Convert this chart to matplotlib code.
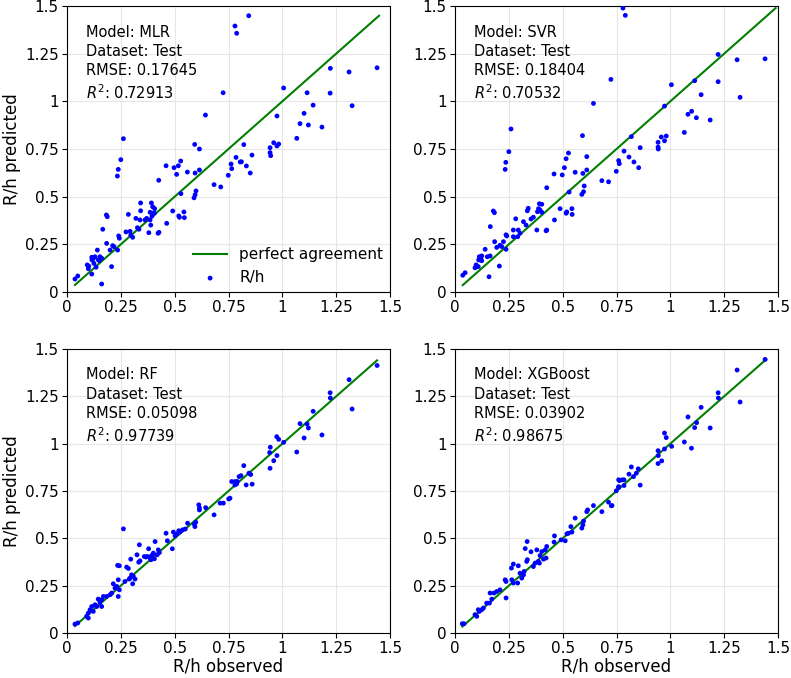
import matplotlib
matplotlib.use("Agg")
import matplotlib.pyplot as plt
import numpy as np
from matplotlib.ticker import FuncFormatter, MultipleLocator

# ---------------- data ----------------
mlr_pts = [(0.78,1.395),(0.788,1.357),(0.844,1.449),(0.725,1.045),(0.643,0.928),(0.262,0.804),(0.25,0.694),(0.238,0.643),(0.234,0.608),(0.593,0.774),(0.615,0.75),(0.46,0.662),(0.497,0.652),(0.509,0.617),(0.517,0.662),(0.528,0.687),(0.559,0.629),(0.595,0.624),(0.615,0.64),(0.426,0.586),(0.683,0.563),(0.714,0.551),(0.785,0.706),(0.762,0.671),(0.765,0.647),(0.749,0.612),(0.804,0.682),(0.529,0.516),(0.599,0.53),(0.595,0.51),(0.59,0.494),(0.342,0.467),(0.342,0.426),(0.392,0.467),(0.398,0.447),(0.407,0.437),(0.386,0.418),(0.398,0.413),(0.491,0.425),(0.519,0.399),(0.522,0.392),(0.543,0.42),(0.545,0.39),(0.285,0.407),(0.32,0.386),(0.339,0.378),(0.362,0.378),(0.37,0.386),(0.389,0.351),(0.386,0.378),(0.395,0.398),(0.406,0.413),(0.463,0.36),(0.427,0.313),(0.423,0.308),(0.38,0.311),(0.183,0.404),(0.187,0.395),(0.166,0.329),(0.274,0.315),(0.296,0.299),(0.293,0.318),(0.327,0.337),(0.334,0.329),(0.305,0.287),(0.24,0.294),(0.243,0.282),(0.184,0.255),(0.212,0.243),(0.218,0.238),(0.235,0.22),(0.2,0.22),(0.141,0.22),(0.13,0.185),(0.115,0.182),(0.116,0.168),(0.122,0.175),(0.153,0.185),(0.161,0.177),(0.15,0.164),(0.145,0.169),(0.125,0.15),(0.135,0.13),(0.094,0.142),(0.099,0.122),(0.101,0.136),(0.115,0.094),(0.207,0.133),(0.05,0.084),(0.037,0.068),(0.161,0.042),(1.223,1.173),(1.31,1.154),(1.44,1.176),(1.006,1.07),(1.115,1.045),(1.222,1.043),(1.143,0.98),(1.324,0.977),(1.101,0.937),(0.975,0.923),(1.082,0.883),(1.121,0.876),(1.184,0.865),(1.067,0.806),(0.96,0.783),(0.983,0.776),(0.975,0.766),(0.943,0.757),(0.943,0.731),(0.946,0.715),(0.821,0.773),(0.81,0.683),(0.833,0.661),(0.859,0.718),(0.851,0.624)]

svr_pts = [(0.724,1.115),(0.643,0.989),(0.26,0.855),(0.25,0.736),(0.236,0.68),(0.233,0.643),(0.592,0.82),(0.527,0.729),(0.516,0.699),(0.612,0.71),(0.508,0.652),(0.498,0.614),(0.46,0.619),(0.558,0.628),(0.594,0.622),(0.612,0.64),(0.682,0.584),(0.713,0.578),(0.749,0.633),(0.426,0.547),(0.53,0.524),(0.6,0.556),(0.597,0.526),(0.589,0.512),(0.488,0.437),(0.519,0.42),(0.516,0.413),(0.543,0.437),(0.544,0.407),(0.392,0.463),(0.403,0.46),(0.388,0.437),(0.395,0.43),(0.383,0.421),(0.403,0.418),(0.34,0.439),(0.336,0.426),(0.178,0.425),(0.183,0.416),(0.164,0.343),(0.282,0.384),(0.271,0.325),(0.294,0.325),(0.302,0.308),(0.291,0.29),(0.318,0.369),(0.33,0.351),(0.353,0.383),(0.364,0.392),(0.38,0.325),(0.423,0.321),(0.426,0.325),(0.462,0.378),(0.184,0.264),(0.209,0.245),(0.225,0.264),(0.237,0.224),(0.217,0.238),(0.24,0.294),(0.237,0.3),(0.271,0.29),(0.194,0.234),(0.14,0.224),(0.113,0.185),(0.12,0.177),(0.11,0.168),(0.124,0.189),(0.15,0.185),(0.163,0.189),(0.108,0.133),(0.098,0.142),(0.093,0.127),(0.124,0.164),(0.158,0.08),(0.206,0.136),(0.047,0.101),(0.036,0.088),(0.78,1.489),(0.791,1.451),(1.222,1.246),(1.31,1.218),(1.44,1.223),(1.005,1.087),(1.113,1.108),(1.222,1.103),(1.143,1.035),(1.324,1.021),(0.973,0.975),(1.099,0.948),(1.082,0.932),(1.121,0.914),(1.185,0.902),(1.065,0.837),(0.958,0.813),(0.981,0.818),(0.973,0.793),(0.943,0.785),(0.943,0.76),(0.944,0.75),(0.819,0.815),(0.86,0.757),(0.785,0.739),(0.808,0.708),(0.831,0.682),(0.853,0.652),(0.76,0.689),(0.763,0.673)]

rf_pts = [(0.262,0.55),(0.336,0.466),(0.409,0.483),(0.379,0.445),(0.296,0.39),(0.339,0.381),(0.333,0.374),(0.325,0.413),(0.359,0.404),(0.367,0.401),(0.373,0.404),(0.386,0.396),(0.393,0.409),(0.401,0.422),(0.424,0.439),(0.429,0.425),(0.419,0.413),(0.39,0.387),(0.406,0.392),(0.46,0.527),(0.466,0.487),(0.494,0.533),(0.489,0.445),(0.502,0.513),(0.512,0.524),(0.519,0.54),(0.525,0.534),(0.537,0.545),(0.549,0.549),(0.56,0.58),(0.591,0.575),(0.598,0.585),(0.594,0.562),(0.612,0.677),(0.615,0.661),(0.615,0.65),(0.644,0.662),(0.683,0.624),(0.711,0.686),(0.726,0.686),(0.751,0.708),(0.765,0.8),(0.78,0.8),(0.788,0.788),(0.799,0.826),(0.235,0.357),(0.243,0.355),(0.277,0.348),(0.285,0.341),(0.238,0.281),(0.269,0.272),(0.293,0.29),(0.3,0.307),(0.308,0.299),(0.316,0.285),(0.305,0.26),(0.289,0.285),(0.215,0.26),(0.223,0.237),(0.231,0.246),(0.243,0.228),(0.208,0.211),(0.2,0.202),(0.184,0.193),(0.238,0.193),(0.169,0.193),(0.161,0.176),(0.145,0.179),(0.153,0.161),(0.138,0.14),(0.161,0.14),(0.13,0.149),(0.115,0.14),(0.107,0.123),(0.122,0.114),(0.099,0.105),(0.091,0.088),(0.099,0.079),(0.037,0.047),(0.05,0.053),(1.44,1.413),(1.31,1.338),(1.222,1.269),(1.223,1.241),(1.324,1.183),(1.143,1.171),(1.082,1.106),(1.115,1.104),(1.121,1.083),(1.101,1.03),(1.184,1.046),(0.974,1.037),(0.983,1.023),(1.006,1.007),(1.067,0.956),(0.944,0.981),(0.941,0.953),(0.975,0.937),(0.96,0.91),(0.943,0.87),(0.821,0.884),(0.808,0.831),(0.845,0.844),(0.853,0.837),(0.832,0.782),(0.86,0.786),(0.791,0.8),(0.78,0.782),(0.757,0.712)]

xgb_pts = [(0.335,0.483),(0.326,0.446),(0.353,0.429),(0.38,0.439),(0.395,0.409),(0.403,0.43),(0.426,0.457),(0.419,0.439),(0.423,0.396),(0.411,0.39),(0.262,0.343),(0.271,0.364),(0.294,0.355),(0.321,0.325),(0.333,0.378),(0.336,0.387),(0.302,0.316),(0.291,0.264),(0.31,0.29),(0.318,0.307),(0.364,0.351),(0.372,0.369),(0.387,0.378),(0.392,0.369),(0.233,0.281),(0.237,0.272),(0.264,0.281),(0.271,0.264),(0.237,0.185),(0.209,0.228),(0.194,0.219),(0.181,0.211),(0.163,0.211),(0.171,0.179),(0.16,0.158),(0.147,0.158),(0.132,0.132),(0.124,0.123),(0.113,0.114),(0.108,0.123),(0.093,0.097),(0.101,0.088),(0.042,0.049),(0.034,0.049),(0.462,0.513),(0.46,0.48),(0.493,0.492),(0.512,0.487),(0.52,0.524),(0.527,0.527),(0.543,0.533),(0.538,0.562),(0.558,0.607),(0.597,0.591),(0.594,0.571),(0.589,0.554),(0.612,0.641),(0.616,0.65),(0.643,0.673),(0.682,0.641),(0.713,0.691),(0.729,0.673),(0.76,0.809),(0.76,0.773),(1.44,1.445),(1.31,1.389),(1.222,1.269),(1.223,1.241),(1.324,1.22),(1.143,1.192),(1.082,1.141),(1.122,1.111),(1.113,1.085),(1.185,1.083),(1.065,1.009),(1.098,0.976),(0.973,1.056),(0.981,1.032),(1.006,0.986),(0.973,0.972),(0.943,0.963),(0.944,0.937),(0.96,0.909),(0.943,0.895),(0.819,0.877),(0.851,0.867),(0.808,0.839),(0.842,0.844),(0.829,0.826),(0.785,0.809),(0.777,0.809),(0.764,0.805),(0.785,0.779),(0.76,0.768),(0.86,0.781),(0.726,0.672),(0.749,0.751)]

models = ["MLR", "SVR", "RF", "XGBoost"]
rmse = ["0.17645", "0.18404", "0.05098", "0.03902"]
r2 = ["0.72913", "0.70532", "0.97739", "0.98675"]
panels = [mlr_pts, svr_pts, rf_pts, xgb_pts]

# ---------------- figure ----------------
fig = plt.figure(figsize=(7.91, 6.78), dpi=100)
W, H = 791, 678
boxes = [(67, 6, 390, 292), (455, 6, 778, 292), (67, 349, 390, 633), (455, 349, 778, 633)]
fmt = FuncFormatter(lambda v, p: "%g" % v)

for i, (pts, (x0, y0, x1, y1)) in enumerate(zip(panels, boxes)):
    ax = fig.add_axes([x0 / W, 1 - y1 / H, (x1 - x0) / W, (y1 - y0) / H])
    arr = np.array(pts)
    obs, pred = arr[:, 0], arr[:, 1]
    lo = min(obs.min(), pred.min())
    hi = max(obs.max(), pred.max())
    ax.plot([lo, hi], [lo, hi], color="green", lw=1.5, label="perfect agreement", zorder=2)
    ax.scatter(obs, pred, s=12, color="blue", edgecolors="none", label="R/h", zorder=3)
    ax.set_xlim(0, 1.5)
    ax.set_ylim(0, 1.5)
    ax.xaxis.set_major_locator(MultipleLocator(0.25))
    ax.yaxis.set_major_locator(MultipleLocator(0.25))
    ax.xaxis.set_major_formatter(fmt)
    ax.yaxis.set_major_formatter(fmt)
    ax.tick_params(labelsize=11, pad=2.5)
    ax.grid(True, color="#e6e6e6", lw=0.8)
    ax.set_axisbelow(True)
    ax.text(0.058, 0.935,
            "Model: %s\nDataset: Test\nRMSE: %s\n$R^2$: %s" % (models[i], rmse[i], r2[i]),
            transform=ax.transAxes, ha="left", va="top", fontsize=10.5, linespacing=1.35)
    if i % 2 == 0:
        ax.set_ylabel("R/h predicted", fontsize=12, labelpad=3)
    if i >= 2:
        ax.set_xlabel("R/h observed", fontsize=12, labelpad=1)
    if i == 0:
        ax.legend(loc="lower right", frameon=False, fontsize=11, handlelength=2.2,
                  borderaxespad=0.05)

fig.savefig("out.png", dpi=100)
